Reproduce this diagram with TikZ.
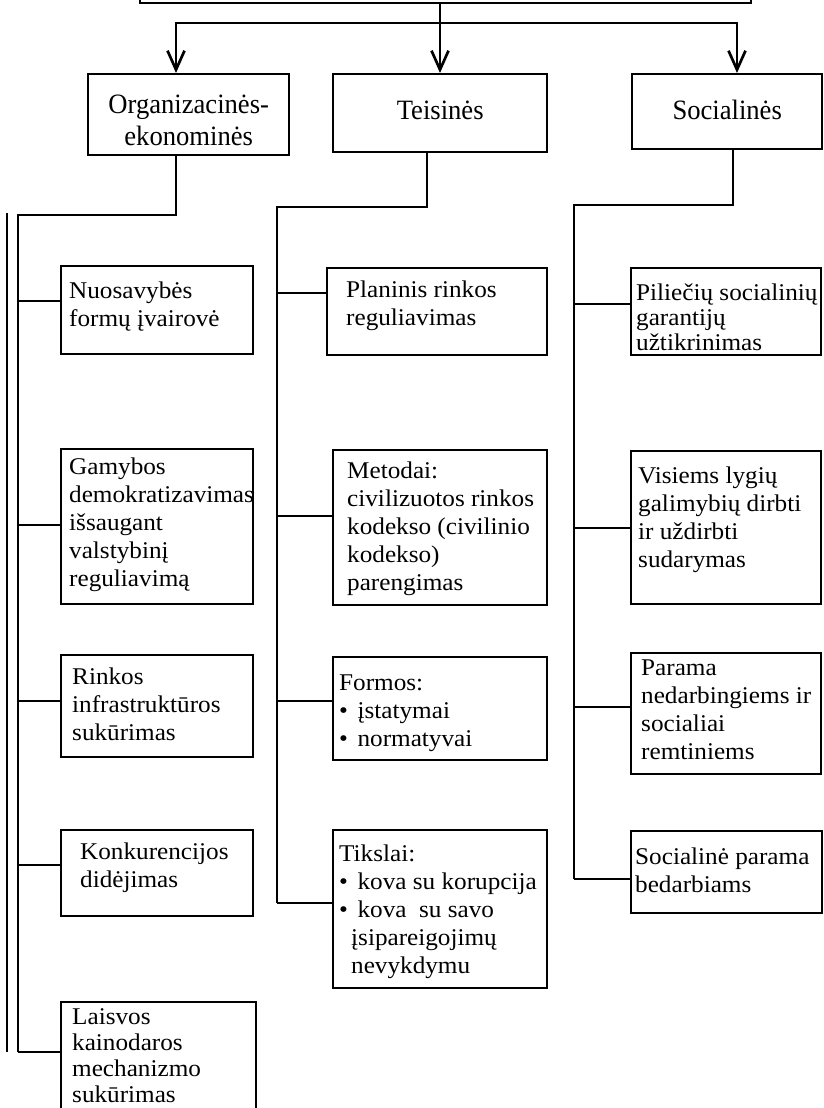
\documentclass[tikz,border=0pt]{standalone}
\usepackage{fontspec}
\setmainfont{Liberation Serif}[FakeStretch=1.05]
\newfontfamily\headfam{Liberation Serif}[FakeStretch=0.95]
\usetikzlibrary{arrows.meta}
\newcommand{\boxfont}{\fontsize{24}{28}\selectfont}
\newcommand{\headfont}{\headfam\fontsize{28}{32}\selectfont}
% width, height, left inset, first baseline, text
\newcommand{\cell}[5]{\parbox[b][#2pt][t]{#1pt}{\raggedright\leftskip=#3pt\relax
    \hyphenpenalty=10000\rule{0pt}{#4pt}#5}}
\newcommand{\headcell}[4]{\parbox[b][#2pt][t]{#1pt}{\centering
    \rule{0pt}{#3pt}#4}}

\begin{document}
\begin{tikzpicture}[x=1pt,y=-1pt,
    link/.style={line width=2.5pt},
    arr/.style={line width=2.7pt,-{Straight Barb[length=19pt,width=17pt]}},
    box/.style={draw,line width=2.4pt,inner sep=0pt,anchor=north west,font=\boxfont},
    head/.style={box,font=\headfont}]
        \useasboundingbox (0,0) rectangle (824,1108);

        % Top box and the three groups
        \node[box,anchor=south west,minimum width=611pt,minimum height=50pt] (top) at (139,4) {};
        \node[head] (org) at (87,73) {\headcell{201}{81}{39}{Organizacinės-\\ekonominės}};
        \node[head] (teis) at (332,73) {\headcell{214}{78}{45}{Teisinės}};
        \node[head] (soc) at (631,73) {\headcell{190}{75}{45}{Socialinės}};

        \coordinate (hub) at (440,23);
        \coordinate (hl) at (176,23);
        \coordinate (hr) at (737,23);
        \draw[arr] (top.south -| hub) -- (hub |- teis.north);
        \draw[arr] (hub) -| (hl |- org.north);
        \draw[arr] (hub) -| (hr |- soc.north);

        % Organizacines-ekonomines
        \node[box] (nuos) at (60,265) {\cell{192}{88}{8}{32}{Nuosavybės\\formų įvairovė}};
        \node[box] (gam) at (60,448) {\cell{192}{155}{8}{25}{Gamybos\\demokratizavimas\\išsaugant\\valstybinį\\reguliavimą}};
        \node[box] (rink) at (60,654) {\cell{192}{102}{11}{29}{Rinkos\\infrastruktūros\\sukūrimas}};
        \node[box] (konk) at (60,829) {\cell{192}{86}{19}{29}{Konkurencijos\\didėjimas}};
        \node[box] (lais) at (60,1001) {\cell{195}{120}{11}{22}{\baselineskip=26pt Laisvos\\kainodaros\\mechanizmo\\sukūrimas}};

        \coordinate (ld) at (176,215);
        \coordinate (lt) at (18,215);
        \coordinate (ot) at (7,213);
        \coordinate (l1) at (18,301);
        \coordinate (l2) at (18,525);
        \coordinate (l3) at (18,701);
        \coordinate (l4) at (18,865);
        \coordinate (l5) at (18,1052);
        \draw[link] (org.south -| ld) -- (ld) -- (lt) -- (l5);
        \draw[link] (ot) -- (ot |- l5);
        \draw[link] (l1) -- (l1 -| nuos.west);
        \draw[link] (l2) -- (l2 -| gam.west);
        \draw[link] (l3) -- (l3 -| rink.west);
        \draw[link] (l4) -- (l4 -| konk.west);
        \draw[link] (l5) -- (l5 -| lais.west);

        % Teisines
        \node[box] (plan) at (326,267) {\cell{220}{87}{19}{29}{Planinis rinkos\\reguliavimas}};
        \node[box] (met) at (332,449) {\cell{214}{155}{14}{28}{Metodai:\\civilizuotos rinkos\\kodekso (civilinio\\kodekso)\\parengimas}};
        \node[box] (form) at (332,656) {\cell{214}{103}{6}{33}{Formos:\\•\hspace{0.4em}įstatymai\\•\hspace{0.4em}normatyvai}};
        \node[box] (tiks) at (332,829) {\cell{214}{158}{6}{31}{Tikslai:\\•\hspace{0.4em}kova su korupcija\\•\hspace{0.4em}kova\ \ su savo\\\hspace*{12pt}įsipareigojimų\\\hspace*{12pt}nevykdymu}};

        \coordinate (md) at (427,207);
        \coordinate (mt) at (277,207);
        \coordinate (m1) at (277,293);
        \coordinate (m2) at (277,516);
        \coordinate (m3) at (277,701);
        \coordinate (m4) at (277,903);
        \draw[link] (teis.south -| md) -- (md) -- (mt) -- (m4);
        \draw[link] (m1) -- (m1 -| plan.west);
        \draw[link] (m2) -- (m2 -| met.west);
        \draw[link] (m3) -- (m3 -| form.west);
        \draw[link] (m4) -- (m4 -| tiks.west);

        % Socialines
        \node[box] (pil) at (630,267) {\cell{190}{87}{5}{32}{\baselineskip=25pt Piliečių socialinių\\garantijų\\užtikrinimas}};
        \node[box] (vis) at (630,450) {\cell{190}{153}{7}{32}{Visiems lygių\\galimybių dirbti\\ir uždirbti\\sudarymas}};
        \node[box] (par) at (630,652) {\cell{190}{121}{10}{22}{Parama\\nedarbingiems ir\\socialiai\\remtiniems}};
        \node[box] (sp) at (630,830) {\cell{191}{82}{4}{33}{Socialinė parama\\bedarbiams}};

        \coordinate (rd) at (733,205);
        \coordinate (rt) at (574,205);
        \coordinate (r1) at (574,304);
        \coordinate (r2) at (574,528);
        \coordinate (r3) at (574,707);
        \coordinate (r4) at (574,879);
        \draw[link] (soc.south -| rd) -- (rd) -- (rt) -- (r4);
        \draw[link] (r1) -- (r1 -| pil.west);
        \draw[link] (r2) -- (r2 -| vis.west);
        \draw[link] (r3) -- (r3 -| par.west);
        \draw[link] (r4) -- (r4 -| sp.west);
    \end{tikzpicture}
\end{document}
